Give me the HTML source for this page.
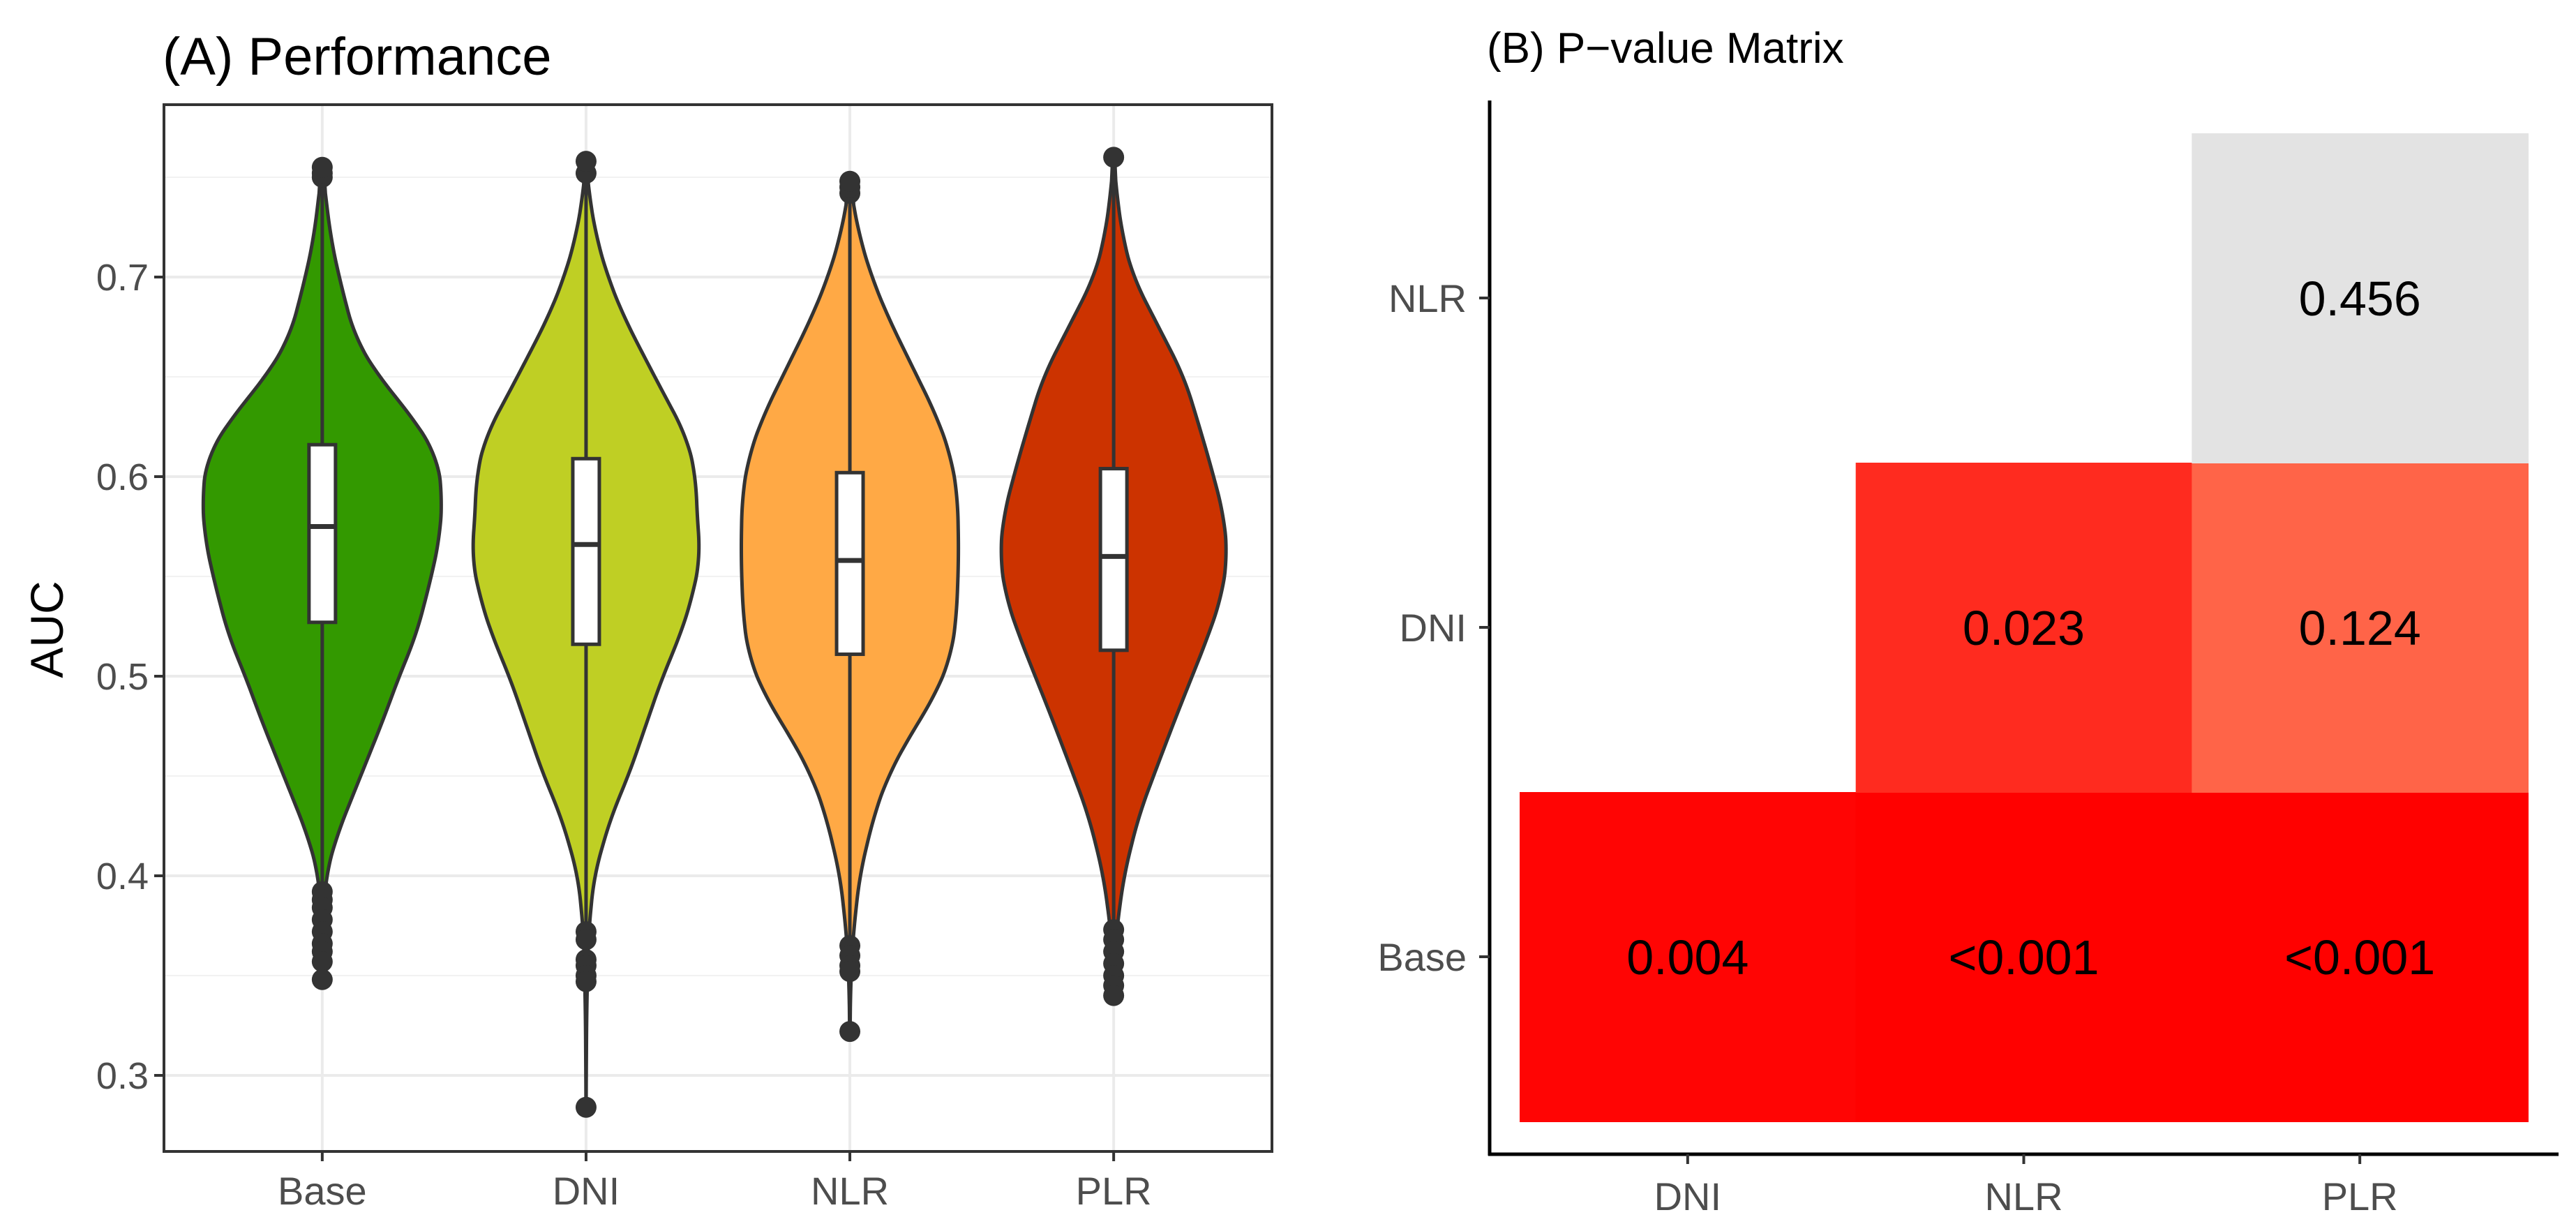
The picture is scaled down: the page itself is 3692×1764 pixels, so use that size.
<!DOCTYPE html>
<html><head><meta charset="utf-8"><style>
html,body{margin:0;padding:0;background:#fff;}
svg{display:block;font-family:"Liberation Sans",Arial,sans-serif;}
</style></head><body>
<svg id="chart" width="3692" height="1764" viewBox="0 0 3692 1764" xmlns="http://www.w3.org/2000/svg">
<rect x="0" y="0" width="3692" height="1764" fill="#fff"/>
<g id="panelA"></g>
<g id="panelB"></g>
</svg>
<script>
// ---------- Panel A data ----------
const categories = ["Base","DNI","NLR","PLR"];
const fillColors = ["#339900","#BFCF24","#FFA945","#CC3300"];
const yTicks = [0.3,0.4,0.5,0.6,0.7];
const yTickLabels = ["0.3","0.4","0.5","0.6","0.7"];
const q1 = [0.527,0.516,0.511,0.513];
const medians = [0.575,0.566,0.558,0.560];
const q3 = [0.616,0.609,0.602,0.604];
const whiskerLow = [0.395,0.375,0.368,0.375];
const whiskerHigh = [0.748,0.750,0.740,0.755];
const outliersBase = [0.392,0.388,0.384,0.378,0.372,0.366,0.362,0.357,0.348,0.750,0.752,0.755];
const outliersDNI = [0.372,0.368,0.358,0.355,0.350,0.347,0.284,0.752,0.758];
const outliersNLR = [0.365,0.360,0.355,0.352,0.322,0.742,0.745,0.748];
const outliersPLR = [0.373,0.368,0.362,0.356,0.350,0.345,0.340,0.760];
const violinBase = [[0.348,0],[0.38,0.01],[0.40,0.03],[0.42,0.12],[0.45,0.32],[0.48,0.52],[0.50,0.64],[0.52,0.78],[0.55,0.91],[0.57,0.98],[0.59,1.0],[0.61,0.96],[0.63,0.75],[0.65,0.47],[0.67,0.27],[0.70,0.14],[0.72,0.07],[0.74,0.03],[0.755,0]];
const violinDNI = [[0.284,0],[0.33,0.005],[0.37,0.02],[0.40,0.07],[0.43,0.22],[0.45,0.37],[0.48,0.55],[0.50,0.67],[0.52,0.82],[0.54,0.93],[0.56,1.0],[0.58,0.97],[0.60,0.96],[0.62,0.88],[0.65,0.6],[0.68,0.33],[0.70,0.19],[0.72,0.09],[0.74,0.03],[0.758,0]];
const violinNLR = [[0.322,0],[0.35,0.01],[0.37,0.03],[0.40,0.09],[0.43,0.22],[0.45,0.35],[0.47,0.55],[0.49,0.78],[0.51,0.93],[0.53,0.98],[0.56,1.0],[0.59,0.99],[0.61,0.93],[0.63,0.8],[0.65,0.62],[0.68,0.35],[0.70,0.2],[0.72,0.09],[0.74,0.02],[0.748,0]];
const violinPLR = [[0.34,0],[0.37,0.02],[0.40,0.09],[0.43,0.22],[0.45,0.35],[0.48,0.55],[0.50,0.69],[0.52,0.83],[0.54,0.95],[0.56,1.0],[0.58,0.97],[0.60,0.88],[0.62,0.78],[0.65,0.62],[0.68,0.35],[0.70,0.17],[0.72,0.08],[0.74,0.03],[0.76,0]];
const maxHalfWidth = [172,164,156,163];

// ---------- Panel B data ----------
const matCols = ["DNI","NLR","PLR"];
const matRows = ["Base","DNI","NLR"];
const pValues = [[0.004,0.0005,0.0004],[null,0.023,0.124],[null,null,0.456]];
const pLabels = [["0.004","<0.001","<0.001"],[null,"0.023","0.124"],[null,null,"0.456"]];

const NS="http://www.w3.org/2000/svg";
function mk(tag,attrs,parent,text){const e=document.createElementNS(NS,tag);for(const k in attrs)e.setAttribute(k,attrs[k]);if(text!==undefined)e.textContent=text;parent.appendChild(e);return e;}

function smoothProfile(prof){
  const lo=prof[0][0],hi=prof[prof.length-1][0],step=0.002;
  const ys=[],ws=[];
  for(let v=lo;v<=hi+1e-9;v+=step){
    let k=0;while(k<prof.length-2&&prof[k+1][0]<v)k++;
    const a=prof[k],b=prof[k+1];const t=Math.max(0,Math.min(1,(v-a[0])/(b[0]-a[0])));
    ys.push(v);ws.push(a[1]+(b[1]-a[1])*t);
  }
  const out=ws.map((w,i)=>{let s=0,n=0;for(let j=-6;j<=6;j++){const q=i+j;if(q>=0&&q<ws.length){s+=ws[q];n++;}}return s/n;});
  out[0]=0;out[out.length-1]=0;
  return ys.map((y,i)=>[y,out[i]]);
}

// ---- Panel A ----
(function(){
const g=document.getElementById('panelA');
const L=235,R=1823,T=150,B=1650;
const yA=v=>397+(0.7-v)*2860;
const xA=i=>L+(0.6+i)*(R-L)/4.2;
for(let v=0.35;v<=0.76;v+=0.1){const l=mk('line',{x1:L,x2:R,y1:yA(v),y2:yA(v),stroke:'#f2f2f2','stroke-width':2},g);}
yTicks.forEach(v=>{const l=mk('line',{x1:L,x2:R,y1:yA(v),y2:yA(v),stroke:'#ebebeb','stroke-width':4},g);});
categories.forEach((c,i)=>{const l=mk('line',{x1:xA(i),x2:xA(i),y1:T,y2:B,stroke:'#ebebeb','stroke-width':4},g);});
const violins=[violinBase,violinDNI,violinNLR,violinPLR];
const outs=[outliersBase,outliersDNI,outliersNLR,outliersPLR];
categories.forEach((c,i)=>{
  const cx=xA(i),hw=maxHalfWidth[i],prof=smoothProfile(violins[i]);
  const right=prof.map(p=>(cx+p[1]*hw)+','+yA(p[0]));
  const left=prof.slice().reverse().map(p=>(cx-p[1]*hw)+','+yA(p[0]));
  const d='M'+right.join(' L')+' L'+left.join(' L')+'Z';
  const v=mk('path',{d:d,fill:fillColors[i],stroke:'#333','stroke-width':5,'stroke-linejoin':'round'},g);
  
  
  const w=mk('line',{x1:cx,x2:cx,y1:yA(whiskerHigh[i]),y2:yA(whiskerLow[i]),stroke:'#333','stroke-width':5},g);
  
  
  outs[i].forEach(o=>{const p=mk('circle',{cx:cx,cy:yA(o),r:15,fill:'#333'},g);});
  const b=mk('rect',{x:cx-19,y:yA(q3[i]),width:38,height:yA(q1[i])-yA(q3[i]),fill:'#fff',stroke:'#333','stroke-width':5},g);
  
  
  const m=mk('line',{x1:cx-19,x2:cx+19,y1:yA(medians[i]),y2:yA(medians[i]),stroke:'#333','stroke-width':7},g);
  
  
  const t=mk('line',{x1:cx,x2:cx,y1:B,y2:B+14,stroke:'#333','stroke-width':4},g);
  
  
  const lb=mk('text',{x:cx,y:1726,'font-size':56,fill:'#4d4d4d','text-anchor':'middle'},g,c);
  
  
});
yTicks.forEach((v,i)=>{
  const t=mk('line',{x1:L-14,x2:L,y1:yA(v),y2:yA(v),stroke:'#333','stroke-width':4},g);
  
  
  const lb=mk('text',{x:L-22,y:yA(v)+19,'font-size':54,fill:'#4d4d4d','text-anchor':'end'},g,yTickLabels[i]);
  
  
});
const border=mk('rect',{x:L,y:T,width:R-L,height:B-T,fill:'none',stroke:'#333','stroke-width':4},g);


const yt=mk('text',{x:0,y:0,'font-size':66,fill:'#000','text-anchor':'middle',transform:'translate(90,902) rotate(-90)'},g,'AUC');


const ti=mk('text',{x:233,y:107,'font-size':76,fill:'#000'},g,'(A) Performance');


})();

// ---- Panel B ----
(function(){
const g=document.getElementById('panelB');
const colEdges=[2178,2658,3141,3623];
const rowBottom=1607,rowH=472;
const xB=j=>colEdges[0]+j*(colEdges[3]-colEdges[0])/3;
const cw=(colEdges[3]-colEdges[0])/3;
const yB=i=>rowBottom-(i+1)*rowH;
function colorFor(p){
  if(p>0.2) return '#e3e3e3';
  const r=Math.min(p/0.124,1);
  const t=p<0.01?r*1.6:Math.sqrt(r);
  const gch=Math.round(t*100), bch=Math.round(t*72);
  return 'rgb(255,'+gch+','+bch+')';
}
pValues.forEach((row,i)=>row.forEach((p,j)=>{
  if(p===null) return;
  const r=mk('rect',{x:xB(j),y:yB(i),width:cw+1,height:rowH+1,fill:colorFor(p)},g);
  
  
  const t=mk('text',{x:xB(j)+cw/2,y:yB(i)+rowH/2+25,'font-size':70,fill:'#000','text-anchor':'middle'},g,pLabels[i][j]);
  
  
}));
const ax=mk('line',{x1:2135,x2:2135,y1:144,y2:1656,stroke:'#000','stroke-width':5},g);


const axx=mk('line',{x1:2133,x2:3667,y1:1654,y2:1654,stroke:'#000','stroke-width':5},g);


matRows.forEach((r,i)=>{
  const y=yB(i)+rowH/2;
  const t=mk('line',{x1:2120,x2:2135,y1:y,y2:y,stroke:'#333','stroke-width':4},g);
  
  
  const lb=mk('text',{x:2102,y:y+20,'font-size':56,fill:'#4d4d4d','text-anchor':'end'},g,r);
  
  
});
matCols.forEach((c,j)=>{
  const x=xB(j)+cw/2;
  const t=mk('line',{x1:x,x2:x,y1:1654,y2:1668,stroke:'#333','stroke-width':4},g);
  
  
  const lb=mk('text',{x:x,y:1734,'font-size':56,fill:'#4d4d4d','text-anchor':'middle'},g,c);
  
  
});
const ti=mk('text',{x:2131,y:90,'font-size':62,fill:'#000'},g,'(B) P\u2212value Matrix');


})();
</script>
</body></html>
